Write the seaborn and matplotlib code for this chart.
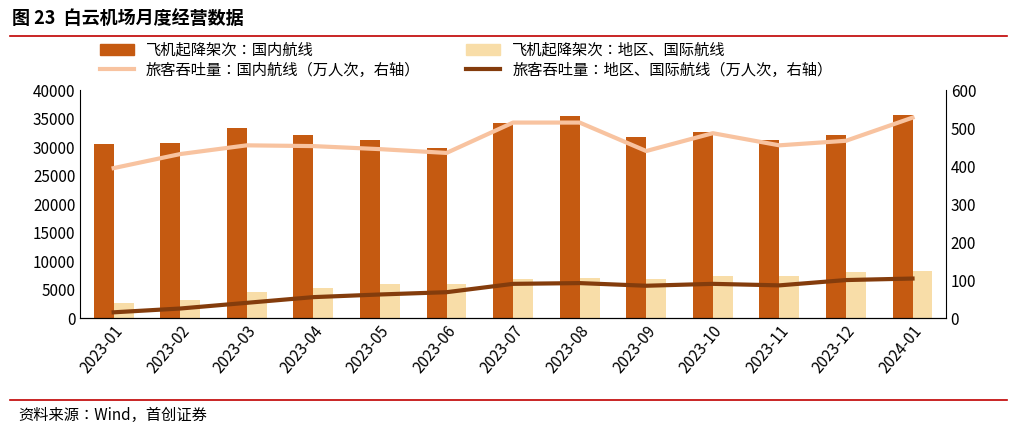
import matplotlib.pyplot as plt
import seaborn as sb
import pandas as pd
import numpy as np
from matplotlib.patches import Patch
from matplotlib.lines import Line2D

plt.rcParams['font.family'] = ['Noto Sans CJK JP', 'Noto Sans CJK SC', 'DejaVu Sans']
plt.rcParams['axes.unicode_minus'] = False

months = ['2023-01', '2023-02', '2023-03', '2023-04', '2023-05', '2023-06', '2023-07',
          '2023-08', '2023-09', '2023-10', '2023-11', '2023-12', '2024-01']
dom_flights = [30500, 30800, 33300, 32200, 31200, 29900, 34200, 35500, 31800, 32700, 31200, 32200, 35600]
intl_flights = [2700, 3200, 4600, 5300, 5900, 6000, 6900, 7000, 6900, 7400, 7300, 8000, 8200]
dom_pax = [395, 432, 455, 453, 445, 435, 515, 515, 440, 487, 455, 467, 528]
intl_pax = [15, 25, 40, 55, 62, 68, 90, 92, 85, 90, 86, 100, 104]

lab1 = '飞机起降架次：国内航线'
lab2 = '飞机起降架次：地区、国际航线'
lab3 = '旅客吞吐量：国内航线（万人次，右轴）'
lab4 = '旅客吞吐量：地区、国际航线（万人次，右轴）'

df = pd.DataFrame({'month': months, lab1: dom_flights, lab2: intl_flights})
long = df.melt(id_vars='month', var_name='series', value_name='v')

fig = plt.figure(figsize=(10.17, 4.28), dpi=100)
ax = fig.add_axes([0.079, 0.257, 0.851, 0.532])
sb.barplot(data=long, x='month', y='v', hue='series', ax=ax,
           palette=['#C55A11', '#F8DDA8'], width=0.6, saturation=1, legend=False)
ax.set_ylim(0, 40000)
ax.set_yticks(range(0, 40001, 5000))
ax.set_xlabel('')
ax.set_ylabel('')
ax.tick_params(axis='x', rotation=50, labelsize=11, length=0)
for t in ax.get_xticklabels():
    t.set_ha('right')
    t.set_rotation_mode('anchor')
ax.tick_params(axis='y', labelsize=11, length=0)
for s in ['top', 'right']:
    ax.spines[s].set_visible(False)

ax2 = ax.twinx()
x = np.arange(len(months))
sb.lineplot(x=x, y=dom_pax, ax=ax2, color='#F8C3A0', linewidth=3)
sb.lineplot(x=x, y=intl_pax, ax=ax2, color='#843C0C', linewidth=3)
ax2.set_ylim(0, 600)
ax2.set_yticks(range(0, 601, 100))
ax2.tick_params(axis='y', labelsize=11, length=0)
for s in ['top', 'left']:
    ax2.spines[s].set_visible(False)
ax.set_xlim(-0.5, len(months) - 0.5)

handles = [Patch(color='#C55A11'), Line2D([], [], color='#F8C3A0', lw=3),
           Patch(color='#F8DDA8'), Line2D([], [], color='#843C0C', lw=3)]
fig.legend(handles, [lab1, lab3, lab2, lab4], ncol=2, frameon=False, fontsize=11,
           loc='upper left', bbox_to_anchor=(0.085, 0.935), columnspacing=3, handlelength=2.2,
           labelspacing=0.2)

fig.text(0.012, 0.955, '图 23  白云机场月度经营数据', fontsize=13, fontweight='bold', va='center')
fig.add_artist(Line2D([0.01, 0.99], [0.915, 0.915], color='#C00000', lw=1.2))
fig.add_artist(Line2D([0.01, 0.99], [0.065, 0.065], color='#C00000', lw=1.2))
fig.text(0.018, 0.03, '资料来源：Wind，首创证券', fontsize=11, style='italic', va='center')

fig.savefig('out.png', dpi=100)
